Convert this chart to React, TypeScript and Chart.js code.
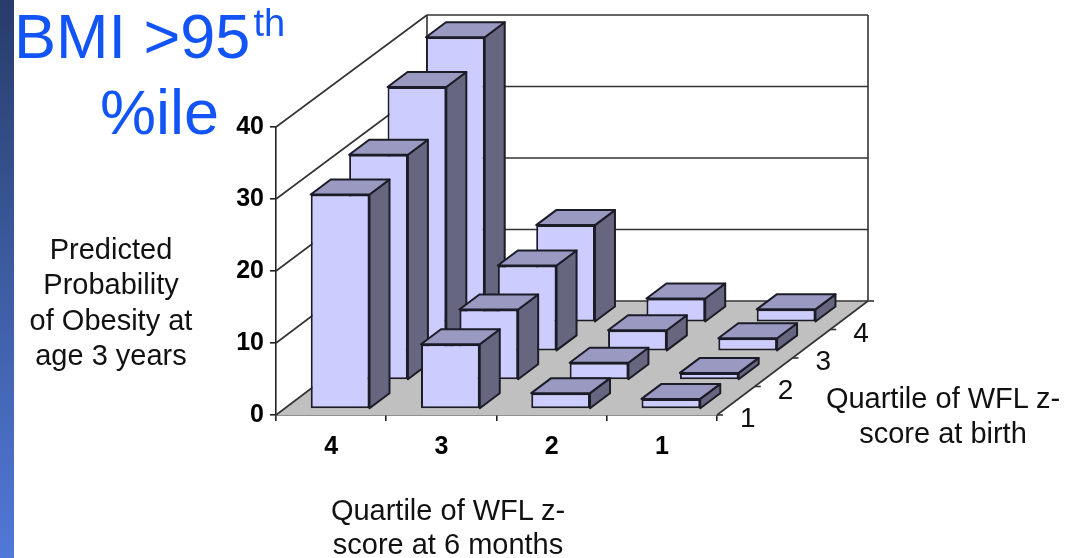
import React, { useEffect, useRef } from "react";
import { Chart, registerables } from "chart.js";

Chart.register(...registerables);

// Quartile of WFL z-score at 6 months (front axis)
const sixMonthQuartiles = ["4", "3", "2", "1"];
// Quartile of WFL z-score at birth (depth axis), front row first
const birthQuartiles = ["1", "2", "3", "4"];
const birthQ1 = [29.8, 9.0, 2.2, 1.4];
const birthQ2 = [31.3, 9.8, 2.4, 1.0];
const birthQ3 = [36.7, 11.9, 2.9, 1.8];
const birthQ4 = [39.6, 13.5, 3.3, 1.8];
const birthRows = [birthQ1, birthQ2, birthQ3, birthQ4];

const FONT = '"Liberation Sans", Arial, sans-serif';
const INK = "#1c1c28";

// Oblique projection used for the fake 3D box
const WALL_DX = 151;
const WALL_DY = 114;
const WALL_SCALE = 286 / 288;
const ROW_DX = 38.4;
const ROW_DY = 28.9;
const ROW_START_DX = 9;
const ROW_START_DY = 6;
const BAR_DX = 20;
const BAR_DY = 15;

const poly = (ctx: CanvasRenderingContext2D, pts: number[][], fill?: string, stroke?: string, lw = 2) => {
  ctx.beginPath();
  pts.forEach(([x, y], i) => (i ? ctx.lineTo(x, y) : ctx.moveTo(x, y)));
  ctx.closePath();
  if (fill) {
    ctx.fillStyle = fill;
    ctx.fill();
  }
  if (stroke) {
    ctx.strokeStyle = stroke;
    ctx.lineWidth = lw;
    ctx.lineJoin = "round";
    ctx.stroke();
  }
};

const line = (ctx: CanvasRenderingContext2D, x0: number, y0: number, x1: number, y1: number, stroke = "#333", lw = 1.6) => {
  ctx.beginPath();
  ctx.moveTo(x0, y0);
  ctx.lineTo(x1, y1);
  ctx.strokeStyle = stroke;
  ctx.lineWidth = lw;
  ctx.stroke();
};

// Walls, floor and depth axis behind the bars
const roomPlugin = {
  id: "room",
  beforeDatasetsDraw(chart: any) {
    const { ctx, chartArea: a, scales } = chart;
    const y = scales.y;
    const backY = (py: number) => a.bottom - WALL_DY - (a.bottom - py) * WALL_SCALE;
    ctx.save();
    poly(ctx, [
      [a.left, a.bottom],
      [a.right, a.bottom],
      [a.right + WALL_DX, a.bottom - WALL_DY],
      [a.left + WALL_DX, a.bottom - WALL_DY],
    ], "#c0c0c0");
    y.ticks.forEach((t: any) => {
      const py = y.getPixelForValue(t.value);
      line(ctx, a.left, py, a.left + WALL_DX, backY(py));
      line(ctx, a.left + WALL_DX, backY(py), a.right + WALL_DX, backY(py));
    });
    line(ctx, a.left + WALL_DX, backY(a.top), a.left + WALL_DX, backY(a.bottom));
    line(ctx, a.right + WALL_DX, backY(a.top), a.right + WALL_DX, backY(a.bottom));
    line(ctx, a.right, a.bottom, a.right + WALL_DX, a.bottom - WALL_DY);

    // Depth axis ticks and labels
    birthQuartiles.forEach((label, i) => {
      const n = birthQuartiles.length;
      const ex = a.right + (WALL_DX * (i + 1)) / n;
      const ey = a.bottom - (WALL_DY * (i + 1)) / n;
      line(ctx, ex, ey, ex + 6, ey);
      const mx = a.right + (WALL_DX * (i + 0.5)) / n;
      const my = a.bottom - (WALL_DY * (i + 0.5)) / n;
      ctx.fillStyle = "#111";
      ctx.font = `28px ${FONT}`;
      ctx.textAlign = "center";
      ctx.textBaseline = "middle";
      ctx.fillText(label, mx + 12, my + 19);
    });
    line(ctx, a.right, a.bottom, a.right + 6, a.bottom);
    ctx.restore();
  },
  // Each row is shifted into depth; side and top faces are added around the native front face
  beforeDatasetDraw(chart: any, args: any) {
    const { ctx } = chart;
    const d = args.index;
    ctx.save();
    ctx.translate(ROW_START_DX + d * ROW_DX, -(ROW_START_DY + d * ROW_DY));
    args.meta.data.forEach((bar: any) => {
      const { x, y, base, width } = bar.getProps(["x", "y", "base", "width"], true);
      const l = x - width / 2;
      const r = x + width / 2;
      poly(ctx, [[r, base], [r + BAR_DX, base - BAR_DY], [r + BAR_DX, y - BAR_DY], [r, y]], "#666680", INK);
      poly(ctx, [[l, y], [l + BAR_DX, y - BAR_DY], [r + BAR_DX, y - BAR_DY], [r, y]], "#9999c2", INK);
    });
  },
  afterDatasetDraw(chart: any) {
    chart.ctx.restore();
  },
};

const Caption = ({ x, y, size, color = "#111", children }: any) => (
  <div
    style={{
      position: "absolute",
      left: x,
      top: y,
      transform: "translate(-50%, -50%)",
      whiteSpace: "nowrap",
      textAlign: "center",
      font: `${size}px ${FONT}`,
      color,
      lineHeight: 1,
    }}
  >
    {children}
  </div>
);

export default function App() {
  const ref = useRef<HTMLCanvasElement>(null);

  useEffect(() => {
    const chart = new Chart(ref.current!, {
      type: "bar",
      data: {
        labels: sixMonthQuartiles,
        datasets: birthRows.map((values, i) => ({
          label: `Birth quartile ${birthQuartiles[i]}`,
          data: values,
          backgroundColor: "#ccccff",
          borderColor: INK,
          borderWidth: 2,
          borderSkipped: false,
          barPercentage: 0.533,
          categoryPercentage: 1,
          grouped: false,
          clip: false,
        })),
      },
      options: {
        animation: false,
        responsive: false,
        layout: { padding: { top: 127, right: 348, left: 0, bottom: 0 } },
        plugins: { legend: { display: false }, tooltip: { enabled: false }, title: { display: false } },
        scales: {
          x: {
            afterFit: (s: any) => { s.height = 143; },
            grid: { drawOnChartArea: false, drawTicks: true, tickLength: 6, color: "#222", lineWidth: 1.6 },
            border: { color: "#222", width: 1.6 },
            ticks: { color: "#000", maxRotation: 0, padding: 11, font: { family: FONT, size: 25, weight: "bold" } },
          },
          y: {
            min: 0,
            max: 40,
            afterFit: (s: any) => { s.width = 276; },
            grid: { drawOnChartArea: false, drawTicks: true, tickLength: 6, color: "#222", lineWidth: 1.6 },
            border: { color: "#222", width: 1.6 },
            ticks: { stepSize: 10, color: "#000", padding: 6, font: { family: FONT, size: 25, weight: "bold" } },
          },
        },
      } as any,
      plugins: [roomPlugin],
    });
    return () => chart.destroy();
  }, []);

  return (
    <div style={{ position: "fixed", left: 0, top: 0, width: 1065, height: 558, background: "#fff", overflow: "hidden" }}>
      <div style={{ position: "absolute", left: 0, top: 0, width: 14, height: 558, background: "linear-gradient(180deg, #283c6b 0%, #3a5a9c 45%, #4466b4 68%, #5078d8 100%)" }} />
      <canvas ref={ref} width={1065} height={558} style={{ position: "absolute", left: 0, top: 0 }} />
      <div style={{ position: "absolute", left: 14, top: 1, font: `63px ${FONT}`, color: "#1254f5", whiteSpace: "nowrap", lineHeight: "70px" }}>
        BMI &gt;95<span style={{ fontSize: 38, position: "relative", top: -22, left: 3, verticalAlign: "baseline", display: "inline-block", lineHeight: "38px" }}>th</span>
      </div>
      <div style={{ position: "absolute", left: 100, top: 77, font: `63px ${FONT}`, color: "#1254f5", whiteSpace: "nowrap", lineHeight: "70px" }}>%ile</div>
      <Caption x={111} y={249} size={29}>Predicted</Caption>
      <Caption x={111} y={284} size={29}>Probability</Caption>
      <Caption x={111} y={320} size={29}>of Obesity at</Caption>
      <Caption x={111} y={355} size={29}>age 3 years</Caption>
      <Caption x={448} y={510} size={29}>Quartile of WFL z-</Caption>
      <Caption x={448} y={544} size={29}>score at 6 months</Caption>
      <Caption x={943} y={398} size={29}>Quartile of WFL z-</Caption>
      <Caption x={943} y={433} size={29}>score at birth</Caption>
    </div>
  );
}
